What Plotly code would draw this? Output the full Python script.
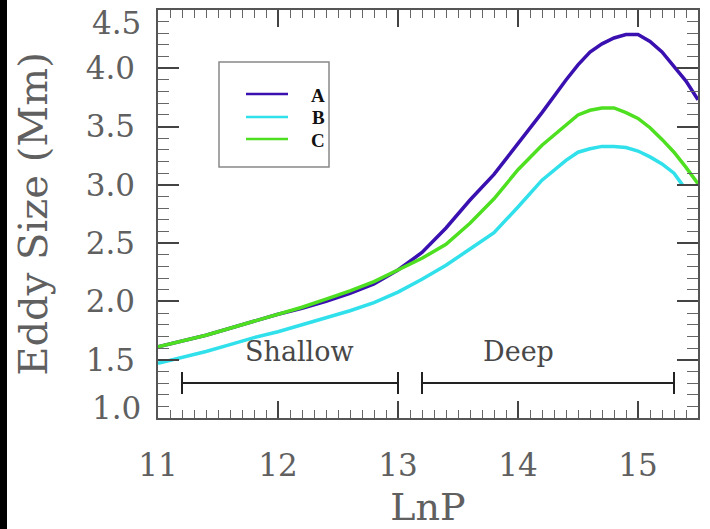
import plotly.graph_objects as go

# ---- data ----
lnp = [11.0, 11.2, 11.4, 11.6, 11.8, 12.0, 12.2, 12.4, 12.6, 12.8, 13.0,
       13.2, 13.4, 13.6, 13.8, 14.0, 14.2, 14.4, 14.5, 14.6, 14.7, 14.8,
       14.9, 15.0, 15.1, 15.2, 15.3, 15.4, 15.5]
eddy_a = [1.61, 1.66, 1.71, 1.77, 1.83, 1.89, 1.94, 2.00, 2.07, 2.15, 2.27,
          2.42, 2.63, 2.87, 3.09, 3.35, 3.62, 3.90, 4.03, 4.14, 4.21, 4.26,
          4.29, 4.29, 4.23, 4.14, 4.02, 3.89, 3.73]
eddy_c = [1.61, 1.66, 1.71, 1.77, 1.83, 1.89, 1.95, 2.02, 2.09, 2.17, 2.27,
          2.37, 2.49, 2.67, 2.88, 3.13, 3.34, 3.52, 3.60, 3.64, 3.66, 3.66,
          3.62, 3.57, 3.49, 3.39, 3.28, 3.15, 3.01]
lnp_b = [11.0, 11.2, 11.4, 11.6, 11.8, 12.0, 12.2, 12.4, 12.6, 12.8, 13.0,
         13.2, 13.4, 13.6, 13.8, 14.0, 14.2, 14.4, 14.5, 14.6, 14.7, 14.8,
         14.9, 15.0, 15.1, 15.2, 15.3, 15.37]
eddy_b = [1.47, 1.52, 1.57, 1.63, 1.69, 1.74, 1.80, 1.86, 1.92, 1.99, 2.08,
          2.19, 2.31, 2.45, 2.59, 2.81, 3.04, 3.21, 3.28, 3.31, 3.33, 3.33,
          3.32, 3.29, 3.24, 3.18, 3.10, 3.00]

series_names = ["A", "B", "C"]
series_colors = ["#3a10b0", "#30e0ea", "#4ee020"]

region_names = ["Shallow", "Deep"]
region_start = [11.2, 13.2]
region_end = [13.0, 15.3]
region_level = 1.3
region_cap = 0.095
region_label_x = [12.18, 14.0]
region_label_y = [1.57, 1.57]

x_ticks = [11, 12, 13, 14, 15]
y_ticks = [1.0, 1.5, 2.0, 2.5, 3.0, 3.5, 4.0, 4.5]
y_ticklabels = ["1.0", "1.5", "2.0", "2.5", "3.0", "3.5", "4.0", "4.5"]

FONT = "DejaVu Serif"
GREY = "#606060"

fig = go.Figure()

xs_list = [lnp, lnp_b, lnp]
ys_list = [eddy_a, eddy_b, eddy_c]
for name, col, xs, ys in zip(series_names, series_colors, xs_list, ys_list):
    fig.add_trace(go.Scatter(x=xs, y=ys, mode="lines", name=name,
                             line=dict(color=col, width=3.5),
                             showlegend=False, cliponaxis=True))

# region bars with end caps
for s, e in zip(region_start, region_end):
    fig.add_trace(go.Scatter(
        x=[s, e, None, s, s, None, e, e],
        y=[region_level, region_level, None,
           region_level - region_cap, region_level + region_cap, None,
           region_level - region_cap, region_level + region_cap],
        mode="lines", line=dict(color="#222222", width=2),
        showlegend=False, hoverinfo="skip"))

annotations = []
for name, lx, ly in zip(region_names, region_label_x, region_label_y):
    annotations.append(dict(x=lx, y=ly, xref="x", yref="y", text=name,
                            showarrow=False, xanchor="center", yanchor="middle",
                            font=dict(family=FONT, size=27, color="#484848")))

# edge tick labels shifted inward (as in the reference)
annotations.append(dict(x=0, xref="paper", xanchor="right", xshift=-15,
                        y=y_ticks[-1], yref="y", yanchor="middle", yshift=-13,
                        text=y_ticklabels[-1], showarrow=False,
                        font=dict(family=FONT, size=31, color=GREY)))
annotations.append(dict(x=0, xref="paper", xanchor="right", xshift=-15,
                        y=y_ticks[0], yref="y", yanchor="middle", yshift=10,
                        text=y_ticklabels[0], showarrow=False,
                        font=dict(family=FONT, size=31, color=GREY)))

# legend (drawn manually)
W, H = 710, 529
L, R, T, B = 158, 12, 10, 111
pw, ph = W - L - R, H - T - B


def px_x(p):
    return (p - L) / pw


def px_y(p):
    return 1 - (p - T) / ph


shapes = []
shapes.append(dict(type="rect", xref="paper", yref="paper",
                   x0=px_x(219), x1=px_x(329), y0=px_y(167), y1=px_y(62),
                   line=dict(color="#888888", width=1.5), fillcolor="white"))
leg_y = [94, 117, 139]
for name, col, yy in zip(series_names, series_colors, leg_y):
    shapes.append(dict(type="line", xref="paper", yref="paper",
                       x0=px_x(246), x1=px_x(288), y0=px_y(yy), y1=px_y(yy),
                       line=dict(color=col, width=2.5)))
    annotations.append(dict(x=px_x(318), y=px_y(yy + 1), xref="paper",
                            yref="paper", text="<b>%s</b>" % name,
                            showarrow=False, xanchor="center",
                            yanchor="middle", borderpad=0,
                            font=dict(family="Liberation Serif",
                                      size=19, color="#111111")))

# black strip at left edge
shapes.append(dict(type="rect", xref="paper", yref="paper",
                   x0=px_x(-2), x1=px_x(7), y0=px_y(H + 2), y1=px_y(-2),
                   line=dict(width=0), fillcolor="black", layer="below"))

fig.update_layout(
    width=W, height=H,
    margin=dict(l=L, r=R, t=T, b=B, autoexpand=False),
    paper_bgcolor="white", plot_bgcolor="white",
    shapes=shapes, annotations=annotations,
    xaxis=dict(range=[11, 15.5], tickvals=x_ticks,
               ticktext=[str(v) for v in x_ticks],
               ticks="inside", ticklen=17, tickwidth=1.5, tickcolor="#444",
               minor=dict(ticks="inside", ticklen=8, dtick=0.1,
                          tickcolor="#666", tickwidth=1),
               showline=True, linecolor="#555", linewidth=1.5, mirror="ticks",
               showgrid=False, zeroline=False,
               tickfont=dict(family=FONT, size=31, color=GREY),
               ticklabelstandoff=19,
               title=dict(text="LnP", font=dict(family=FONT, size=38,
                                                color=GREY), standoff=11)),
    yaxis=dict(range=[1.0, 4.5], tickvals=y_ticks,
               ticktext=[""] + y_ticklabels[1:-1] + [""],
               ticks="inside", ticklen=21, tickwidth=1.5, tickcolor="#444",
               minor=dict(ticks="inside", ticklen=11, dtick=0.1,
                          tickcolor="#666", tickwidth=1),
               showline=True, linecolor="#555", linewidth=1.5, mirror="ticks",
               showgrid=False, zeroline=False,
               tickfont=dict(family=FONT, size=31, color=GREY),
               ticklabelstandoff=15,
               title=dict(text="Eddy Size (Mm)",
                          font=dict(family=FONT, size=40, color=GREY),
                          standoff=26)),
)

fig.write_html(
    "out.html",
    config={"displayModeBar": False},
    post_script="document.body.style.margin='0';"
                "document.body.style.overflow='hidden';",
)
